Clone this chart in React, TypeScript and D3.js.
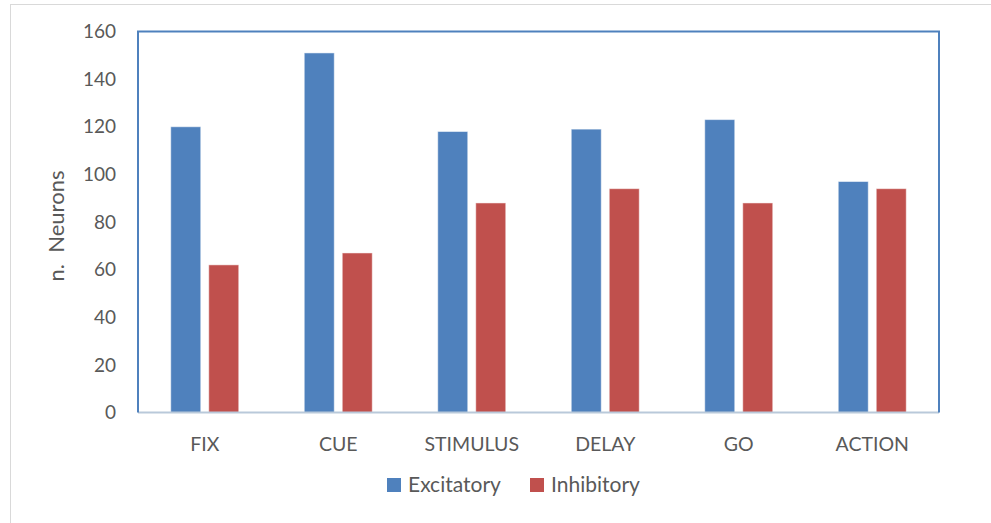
import React from "react";
import * as d3 from "d3";

const categories = ["FIX", "CUE", "STIMULUS", "DELAY", "GO", "ACTION"];
const seriesNames = ["Excitatory", "Inhibitory"];
const excitatory = [120, 151, 118, 119, 123, 97];
const inhibitory = [62, 67, 88, 94, 88, 94];
const yTicks = [0, 20, 40, 60, 80, 100, 120, 140, 160];
const colors = ["#4F81BD", "#C0504D"];

export default function App() {
  const W = 991, H = 523;
  const left = 138, right = 939, top = 31.5, bottom = 412.5;
  const x = d3.scaleBand().domain(categories).range([left, right]);
  const y = d3.scaleLinear().domain([0, 160]).range([bottom, top]);
  const barW = 30, gap = 8;
  const series = [excitatory, inhibitory];
  const font = "Lato, 'Open Sans', sans-serif";
  return (
    <svg width={W} height={H} style={{ position: "absolute", left: 0, top: 0 }}>
      <rect x={0} y={0} width={W} height={H} fill="#fff" />
      <rect x={10.5} y={4.5} width={W} height={H} fill="none" stroke="#D9D9D9" strokeWidth={1} />
      {yTicks.map((t) => (
        <text key={t} x={116} y={y(t)} dy="0.35em" textAnchor="end" fontSize={19} fill="#595959" fontFamily={font}>
          {t}
        </text>
      ))}
      <text transform={`translate(64,${(top + bottom) / 2 + 4}) rotate(-90)`} textAnchor="middle" fontSize={22} fill="#595959" fontFamily={font} style={{ whiteSpace: "pre" }}>
        {"n.  Neurons"}
      </text>
      {categories.map((c, i) => {
        const cx = (x(c) as number) + x.bandwidth() / 2;
        return (
          <g key={c}>
            {series.map((s, j) => {
              const bx = j === 0 ? cx - gap / 2 - barW : cx + gap / 2;
              return (
                <rect key={j} x={bx} y={y(s[i])} width={barW} height={bottom - y(s[i])} fill={colors[j]} stroke="#ffffff" strokeOpacity={0.5} strokeWidth={1} />
              );
            })}
            <text x={cx} y={444} dy="0.35em" textAnchor="middle" fontSize={19.5} fill="#595959" fontFamily={font}>
              {c}
            </text>
          </g>
        );
      })}
      <line x1={left} x2={right} y1={bottom} y2={bottom} stroke="#B9C9DA" strokeWidth={2} />
      <polyline points={`${left},${bottom} ${left},${top} ${right},${top} ${right},${bottom}`} fill="none" stroke="#4F81BD" strokeWidth={2} />
      {seriesNames.map((n, j) => {
        const lx = j === 0 ? 387 : 530;
        return (
          <g key={n}>
            <rect x={lx} y={478} width={14} height={14} fill={colors[j]} />
            <text x={lx + 21} y={485} dy="0.35em" fontSize={21} fill="#595959" fontFamily={font}>
              {n}
            </text>
          </g>
        );
      })}
    </svg>
  );
}
